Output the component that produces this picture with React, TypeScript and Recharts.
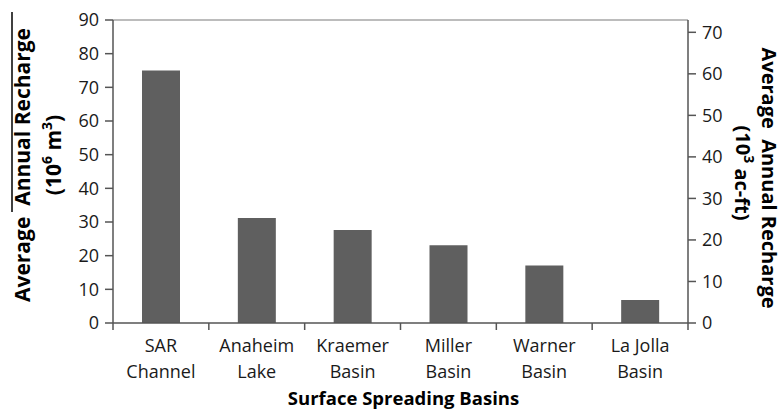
import { Bar, BarChart, Label, ReferenceLine, XAxis, YAxis } from "recharts";

// basin names (line break inside the label) and recharge in 10^6 m3
const basins = [
  "SAR\nChannel",
  "Anaheim\nLake",
  "Kraemer\nBasin",
  "Miller\nBasin",
  "Warner\nBasin",
  "La Jolla\nBasin",
];
const recharge = [75, 31.2, 27.6, 23.1, 17.1, 6.8];

const m3Ticks = [0, 10, 20, 30, 40, 50, 60, 70, 80, 90];
const acftTicks = [0, 10, 20, 30, 40, 50, 60, 70];

// 10^3 ac-ft expressed in 10^6 m3
const M3_PER_KACFT = 1.2335;
const M3_MAX = 90;

const WIDTH = 783;
const HEIGHT = 411;
const LEFT_AXIS_W = 113;
const RIGHT_AXIS_W = 95;
const BAND = (WIDTH - LEFT_AXIS_W - RIGHT_AXIS_W) / basins.length;

const FONT = "'Open Sans', sans-serif";
const AXIS = "#555555";

const data = basins.map((name, i) => ({ name, recharge: recharge[i] }));

function BasinTick(props: any) {
  const { x, y, payload, index } = props;
  const [first, second] = String(payload.value).split("\n");
  const edge = x - BAND / 2;
  return (
    <g>
      <line x1={edge} x2={edge} y1={y} y2={y + 7} stroke={AXIS} strokeWidth={1.5} />
      {index === basins.length - 1 && (
        <line x1={x + BAND / 2} x2={x + BAND / 2} y1={y} y2={y + 7} stroke={AXIS} strokeWidth={1.5} />
      )}
      <text x={x} y={y + 29} textAnchor="middle" fontFamily={FONT} fontSize={18} fill="#1a1a1a">
        {first}
      </text>
      <text x={x} y={y + 55} textAnchor="middle" fontFamily={FONT} fontSize={18} fill="#1a1a1a">
        {second}
      </text>
    </g>
  );
}

function LeftTitle() {
  return (
    <g fontFamily={FONT} fontWeight="bold" fontSize={21} fill="#000">
      <line x1={12} x2={12} y1={12} y2={212} stroke="#000" strokeWidth={1.5} />
      <text
        transform="translate(22,165) rotate(-90)"
        textAnchor="middle"
        dominantBaseline="central"
        style={{ whiteSpace: "pre" }}
      >
        {"Average  Annual Recharge"}
      </text>
      <text transform="translate(53,155) rotate(-90)" textAnchor="middle" dominantBaseline="central">
        (10
        <tspan dy={-7} fontSize={14}>6</tspan>
        <tspan dy={7}> m</tspan>
        <tspan dy={-7} fontSize={14}>3</tspan>
        <tspan dy={7}>)</tspan>
      </text>
    </g>
  );
}

function RightTitle() {
  return (
    <g fontFamily={FONT} fontWeight="bold" fontSize={20} fill="#000">
      <text
        transform="translate(769,178) rotate(90)"
        textAnchor="middle"
        dominantBaseline="central"
        style={{ whiteSpace: "pre" }}
      >
        {"Average  Annual Recharge"}
      </text>
      <text transform="translate(743,173) rotate(90)" textAnchor="middle" dominantBaseline="central">
        (10
        <tspan dy={-7} fontSize={14}>3</tspan>
        <tspan dy={7}> ac-ft)</tspan>
      </text>
    </g>
  );
}

function BottomTitle(props: any) {
  const { viewBox } = props;
  return (
    <text
      x={viewBox.x + viewBox.width / 2 + 3}
      y={viewBox.y + 82}
      textAnchor="middle"
      fontFamily={FONT}
      fontWeight="bold"
      fontSize={18.5}
      fill="#000"
    >
      Surface Spreading Basins
    </text>
  );
}

export default function App() {
  return (
    <div style={{ width: WIDTH, height: HEIGHT, background: "#fff" }}>
      <style>{"body{margin:0}"}</style>
      <BarChart
        width={WIDTH}
        height={HEIGHT}
        data={data}
        margin={{ top: 20, right: 0, bottom: 0, left: 0 }}
        barCategoryGap="30%"
      >
        <XAxis
          dataKey="name"
          height={88}
          interval={0}
          tick={<BasinTick />}
          tickLine={false}
          tickSize={0}
          tickMargin={0}
          axisLine={{ stroke: AXIS, strokeWidth: 1.5 }}
        >
          <Label content={<BottomTitle />} />
        </XAxis>
        <YAxis
          yAxisId="m3"
          width={LEFT_AXIS_W}
          domain={[0, M3_MAX]}
          ticks={m3Ticks}
          interval={0}
          tickSize={8}
          tickMargin={6}
          tick={{ fontFamily: FONT, fontSize: 18, fill: "#1a1a1a" }}
          tickLine={{ stroke: AXIS, strokeWidth: 1.5 }}
          axisLine={{ stroke: AXIS, strokeWidth: 1.5 }}
        >
          <Label content={<LeftTitle />} />
        </YAxis>
        <YAxis
          yAxisId="acft"
          orientation="right"
          width={RIGHT_AXIS_W}
          domain={[0, M3_MAX / M3_PER_KACFT]}
          allowDataOverflow
          ticks={acftTicks}
          interval={0}
          tickSize={8}
          tickMargin={6}
          tick={{ fontFamily: FONT, fontSize: 18, fill: "#1a1a1a" }}
          tickLine={{ stroke: AXIS, strokeWidth: 1.5 }}
          axisLine={{ stroke: AXIS, strokeWidth: 1.5 }}
        >
          <Label content={<RightTitle />} />
        </YAxis>
        <ReferenceLine yAxisId="m3" y={M3_MAX} stroke="#a6a6a6" strokeWidth={1.5} />
        <Bar
          yAxisId="m3"
          dataKey="recharge"
          fill="#5f5f5f"
          barSize={38}
          isAnimationActive={false}
        />
      </BarChart>
    </div>
  );
}
